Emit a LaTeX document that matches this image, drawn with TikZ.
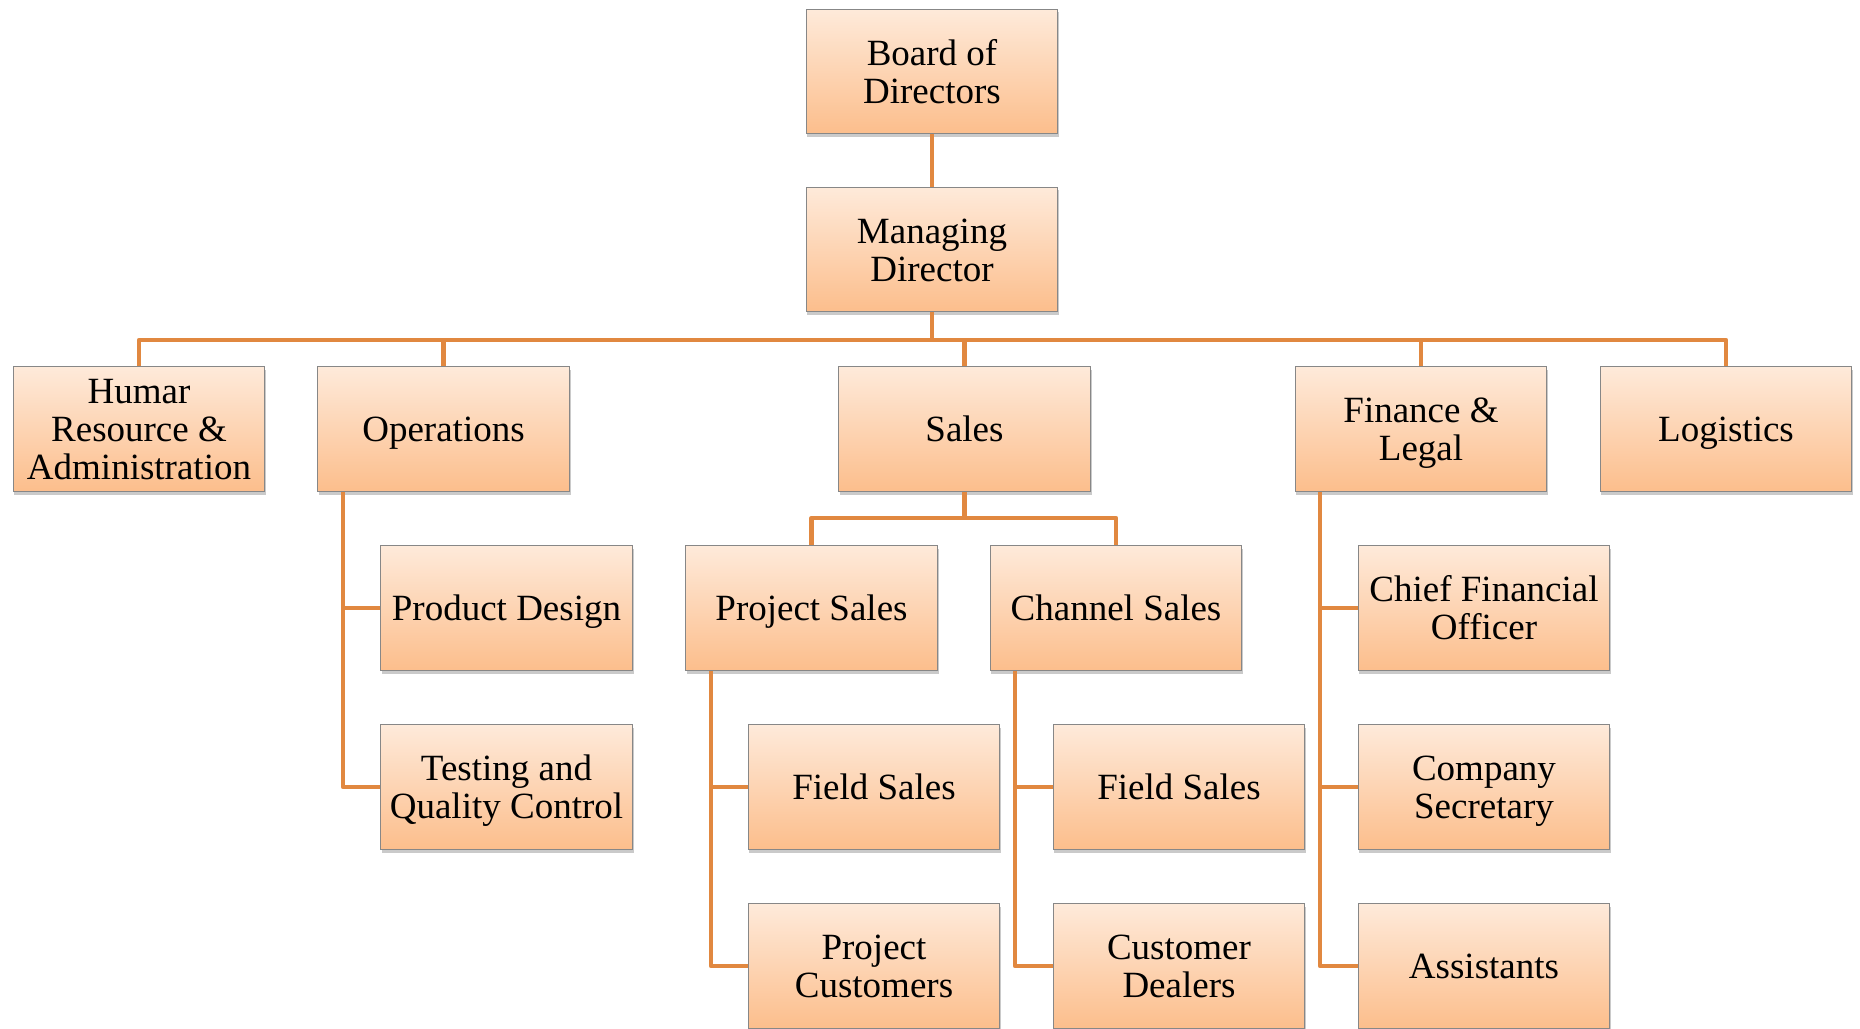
\documentclass[tikz,border=0pt]{standalone}
\usepackage{fontspec}
\setmainfont{Liberation Serif}
\usetikzlibrary{shadows}
\definecolor{boxtop}{RGB}{254,234,218}
\definecolor{boxbot}{RGB}{252,190,140}
\definecolor{boxline}{RGB}{135,135,135}
\definecolor{connc}{RGB}{225,136,64}
% text block, vertically centred on its capitals, with zero size
\newcommand\tb[1]{\raisebox{-7pt}[0pt][0pt]{\begin{tabular}{@{}c@{}}#1\end{tabular}}}
\tikzset{
  orgbox/.style={rectangle, draw=boxline, line width=0.6pt,
    top color=boxtop, bottom color=boxbot,
    minimum width=125.8pt, minimum height=62.3pt, inner sep=0pt,
    font=\fontsize{18.5pt}{19pt}\selectfont,
    drop shadow={shadow xshift=0.6pt, shadow yshift=-1.6pt, opacity=0.35, fill=black!60}},
  conn/.style={draw=connc, line width=2.3pt, line join=round}
}
\begin{document}
\begin{tikzpicture}[x=0.5pt,y=-0.5pt]
\useasboundingbox (0,0) rectangle (1860,1029);
% rows
\node[orgbox] (bod) at (932,71.5) {\tb{Board of\\Directors}};
\node[orgbox] (md) at (932,249.5) {\tb{Managing\\Director}};
\node[orgbox] (hr) at (139,429) {\tb{Humar\\Resource \&\\Administration}};
\node[orgbox] (ops) at (443.5,429) {\tb{Operations}};
\node[orgbox] (sales) at (964.5,429) {\tb{Sales}};
\node[orgbox] (fin) at (1421,429) {\tb{Finance \&\\Legal}};
\node[orgbox] (log) at (1726,429) {\tb{Logistics}};
\node[orgbox] (pd) at (506.5,608) {\tb{Product Design}};
\node[orgbox] (ps) at (811.5,608) {\tb{Project Sales}};
\node[orgbox] (cs) at (1116,608) {\tb{Channel Sales}};
\node[orgbox] (cfo) at (1484,608) {\tb{Chief Financial\\Officer}};
\node[orgbox] (tq) at (506.5,787) {\tb{Testing and\\Quality Control}};
\node[orgbox] (fs1) at (874,787) {\tb{Field Sales}};
\node[orgbox] (fs2) at (1179,787) {\tb{Field Sales}};
\node[orgbox] (csec) at (1484,787) {\tb{Company\\Secretary}};
\node[orgbox] (pc) at (874,966) {\tb{Project\\Customers}};
\node[orgbox] (cd) at (1179,966) {\tb{Customer\\Dealers}};
\node[orgbox] (asst) at (1484,966) {\tb{Assistants}};
% helper coordinates
\coordinate (bus) at (0,340);
\coordinate (sbus) at (0,518);
\coordinate (opsx) at (343,0);
\coordinate (psx) at (711,0);
\coordinate (csx) at (1015,0);
\coordinate (finx) at (1320,0);
% connectors
\draw[conn] (bod.south) -- (md.north);
\draw[conn] (md.south) -- (md.south |- bus);
\draw[conn] (hr.north) -- (hr.north |- bus) -- (log.north |- bus) -- (log.north);
\draw[conn] (ops.north) -- (ops.north |- bus);
\draw[conn] (sales.north) -- (sales.north |- bus);
\draw[conn] (fin.north) -- (fin.north |- bus);
\draw[conn] (sales.south) -- (sales.south |- sbus);
\draw[conn] (ps.north) -- (ps.north |- sbus) -- (cs.north |- sbus) -- (cs.north);
\draw[conn] (ops.south -| opsx) |- (tq.west);
\draw[conn] (opsx |- pd.west) -- (pd.west);
\draw[conn] (ps.south -| psx) |- (pc.west);
\draw[conn] (psx |- fs1.west) -- (fs1.west);
\draw[conn] (cs.south -| csx) |- (cd.west);
\draw[conn] (csx |- fs2.west) -- (fs2.west);
\draw[conn] (fin.south -| finx) |- (asst.west);
\draw[conn] (finx |- cfo.west) -- (cfo.west);
\draw[conn] (finx |- csec.west) -- (csec.west);
\end{tikzpicture}
\end{document}
